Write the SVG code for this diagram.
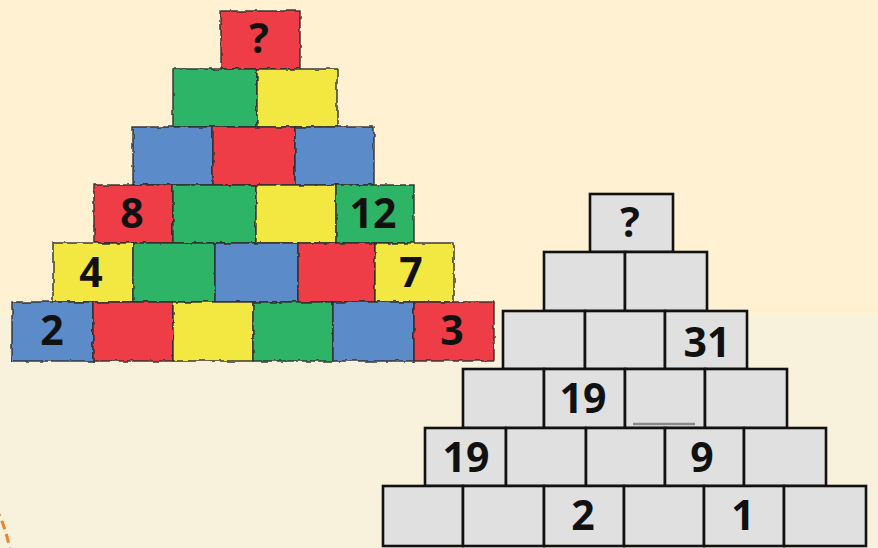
<svg xmlns="http://www.w3.org/2000/svg" width="878" height="548" viewBox="0 0 878 548">
<defs>
<filter id="rough" x="-5%" y="-5%" width="110%" height="110%">
<feTurbulence type="fractalNoise" baseFrequency="0.12" numOctaves="2" seed="3" result="n"/>
<feDisplacementMap in="SourceGraphic" in2="n" scale="3.5" xChannelSelector="R" yChannelSelector="G"/>
</filter>
</defs>
<style>
.r{fill:#EE3D47}.g{fill:#2EB466}.y{fill:#F3E843}.b{fill:#5B8BC9}
.blk rect{stroke:#2e2e2e;stroke-width:1.4}
.gr rect{fill:#E0E0E0;stroke:#111;stroke-width:2.6}
text{font-family:"Open Sans","Liberation Sans",sans-serif;font-weight:700;font-size:41px;fill:#111;text-anchor:middle}
</style>
<rect x="0" y="0" width="878" height="315" fill="#FFF1D2"/>
<rect x="0" y="315" width="878" height="233" fill="#F8F1DC"/>
<path d="M-4,508 Q6,528 10,550" fill="none" stroke="#F0842C" stroke-width="3" stroke-dasharray="9,5"/>

<g id="left-pyramid" class="blk" filter="url(#rough)">
<g id="L0-0"><rect class="r" x="221" y="11" width="79" height="58"/></g>
<g id="L1-0"><rect class="g" x="173" y="69" width="84" height="58"/></g>
<g id="L1-1"><rect class="y" x="257" y="69" width="80" height="58"/></g>
<g id="L2-0"><rect class="b" x="133" y="127" width="80" height="58"/></g>
<g id="L2-1"><rect class="r" x="213" y="127" width="82" height="58"/></g>
<g id="L2-2"><rect class="b" x="295" y="127" width="79" height="58"/></g>
<g id="L3-0"><rect class="r" x="94" y="185" width="79" height="58"/></g>
<g id="L3-1"><rect class="g" x="173" y="185" width="83" height="58"/></g>
<g id="L3-2"><rect class="y" x="256" y="185" width="80" height="58"/></g>
<g id="L3-3"><rect class="g" x="336" y="185" width="78" height="58"/></g>
<g id="L4-0"><rect class="y" x="53" y="243" width="80" height="59"/></g>
<g id="L4-1"><rect class="g" x="133" y="243" width="82" height="59"/></g>
<g id="L4-2"><rect class="b" x="215" y="243" width="83" height="59"/></g>
<g id="L4-3"><rect class="r" x="298" y="243" width="77" height="59"/></g>
<g id="L4-4"><rect class="y" x="375" y="243" width="79" height="59"/></g>
<g id="L5-0"><rect class="b" x="12" y="302" width="81" height="59"/></g>
<g id="L5-1"><rect class="r" x="93" y="302" width="80" height="59"/></g>
<g id="L5-2"><rect class="y" x="173" y="302" width="80" height="59"/></g>
<g id="L5-3"><rect class="g" x="253" y="302" width="80" height="59"/></g>
<g id="L5-4"><rect class="b" x="333" y="302" width="81" height="59"/></g>
<g id="L5-5"><rect class="r" x="414" y="302" width="80" height="59"/></g>
</g>
<g id="left-labels">
<text x="259" y="53" font-size="36">?</text>
<text x="132" y="228">8</text>
<text x="373" y="228">12</text>
<text x="91" y="287">4</text>
<text x="411" y="287">7</text>
<text x="52" y="345">2</text>
<text x="452" y="345">3</text>
</g>

<g id="right-pyramid" class="gr">
<g id="R0-0"><rect x="590" y="194" width="83" height="58"/></g>
<g id="R1-0"><rect x="544" y="252" width="81" height="59"/></g>
<g id="R1-1"><rect x="625" y="252" width="82" height="59"/></g>
<g id="R2-0"><rect x="503" y="311" width="82" height="58"/></g>
<g id="R2-1"><rect x="585" y="311" width="80" height="58"/></g>
<g id="R2-2"><rect x="665" y="311" width="82" height="58"/></g>
<g id="R3-0"><rect x="463" y="369" width="81" height="59"/></g>
<g id="R3-1"><rect x="544" y="369" width="81" height="59"/></g>
<g id="R3-2"><rect x="625" y="369" width="80" height="59"/></g>
<g id="R3-3"><rect x="705" y="369" width="82" height="59"/></g>
<g id="R4-0"><rect x="425" y="428" width="81" height="58"/></g>
<g id="R4-1"><rect x="506" y="428" width="80" height="58"/></g>
<g id="R4-2"><rect x="586" y="428" width="79" height="58"/></g>
<g id="R4-3"><rect x="665" y="428" width="79" height="58"/></g>
<g id="R4-4"><rect x="744" y="428" width="82" height="58"/></g>
<g id="R5-0"><rect x="383" y="486" width="80" height="60"/></g>
<g id="R5-1"><rect x="463" y="486" width="81" height="60"/></g>
<g id="R5-2"><rect x="544" y="486" width="80" height="60"/></g>
<g id="R5-3"><rect x="624" y="486" width="80" height="60"/></g>
<g id="R5-4"><rect x="704" y="486" width="80" height="60"/></g>
<g id="R5-5"><rect x="784" y="486" width="82" height="60"/></g>
</g>
<line x1="633" y1="424" x2="695" y2="424" stroke="#8a8a8a" stroke-width="2.5"/>
<g id="right-labels">
<text x="630" y="237" font-size="36">?</text>
<text x="707" y="357">31</text>
<text x="583" y="413">19</text>
<text x="466" y="472">19</text>
<text x="702" y="472">9</text>
<text x="583" y="530">2</text>
<text x="743" y="530">1</text>
</g>
</svg>
